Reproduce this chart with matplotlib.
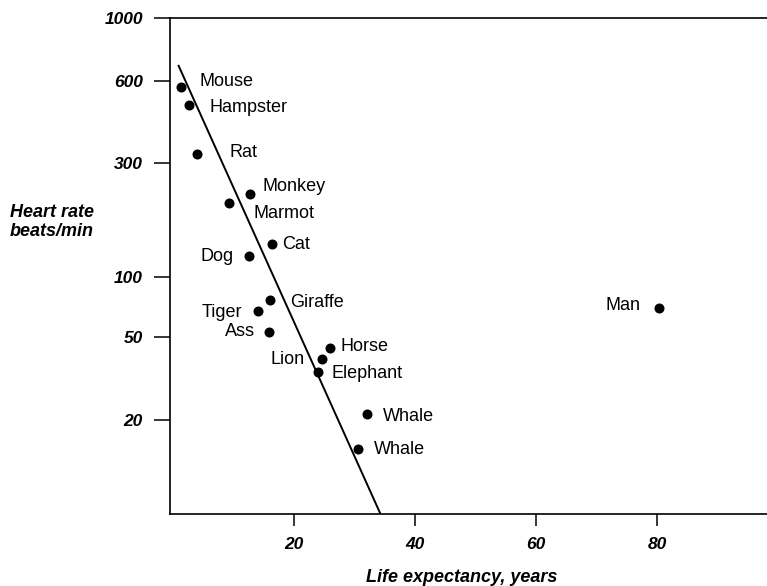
import numpy as np
import matplotlib
matplotlib.use("Agg")
import matplotlib.pyplot as plt

plt.rcParams['font.family'] = ['Liberation Sans', 'DejaVu Sans']

animals = ["Mouse", "Hampster", "Rat", "Monkey", "Marmot", "Cat", "Dog", "Giraffe",
           "Tiger", "Ass", "Horse", "Lion", "Elephant", "Whale", "Whale", "Man"]
life_expectancy = [1.3, 2.6, 3.9, 12.8, 9.3, 16.3, 12.6, 16.1,
                   14.1, 15.9, 25.9, 24.6, 23.9, 32.1, 30.6, 80.3]
heart_rate = [569, 491, 322, 221, 204, 137, 122, 76,
              67, 53, 44, 39, 33.8, 21.3, 14.5, 70]

trend_x = [0.86, 34.3]
trend_y = [684, 7]

x_ticks = [20, 40, 60, 80]
y_ticks = [20, 50, 100, 300, 600, 1000]

# hand-drawn (non-uniform) logarithmic axis calibration: value -> relative height
scale_vals = [7, 20, 50, 100, 300, 600, 1000]
scale_pos = [0, 94, 177.3, 237.3, 351.3, 433, 495.7]
_lv = np.log10(scale_vals)
_sp = np.array(scale_pos)


def fwd(v):
    v = np.clip(np.asarray(v, dtype=float), 1e-6, None)
    lv = np.log10(v)
    slo = (_sp[1] - _sp[0]) / (_lv[1] - _lv[0])
    shi = (_sp[-1] - _sp[-2]) / (_lv[-1] - _lv[-2])
    out = np.interp(lv, _lv, _sp)
    out = np.where(lv < _lv[0], _sp[0] + (lv - _lv[0]) * slo, out)
    out = np.where(lv > _lv[-1], _sp[-1] + (lv - _lv[-1]) * shi, out)
    return out


def inv(p):
    p = np.asarray(p, dtype=float)
    slo = (_sp[1] - _sp[0]) / (_lv[1] - _lv[0])
    shi = (_sp[-1] - _sp[-2]) / (_lv[-1] - _lv[-2])
    out = np.interp(p, _sp, _lv)
    out = np.where(p < _sp[0], _lv[0] + (p - _sp[0]) / slo, out)
    out = np.where(p > _sp[-1], _lv[-1] + (p - _sp[-1]) / shi, out)
    return 10 ** out


# label offsets in pixels (dx, dy) and alignment
offsets = [(19, 6), (21, -3), (33, 2), (12, 8), (24, -11), (11, 0), (-16, 0), (20, -2),
           (-16, -1), (-14, 0), (11, 2), (-17, 0), (14, -1), (16, -2), (16, -1), (-18, 2)]
aligns = ['left', 'left', 'left', 'left', 'left', 'left', 'right', 'left',
          'right', 'right', 'left', 'right', 'left', 'left', 'left', 'right']

fig = plt.figure(figsize=(7.67, 5.86), dpi=100)
ax = fig.add_axes([170 / 767, 72 / 586, (767 - 170) / 767, (514 - 18.3) / 586])
ax.set_yscale('function', functions=(fwd, inv))
ax.set_xlim(-0.5, 98.2)
ax.set_ylim(7, 1000)

ax.plot(trend_x, trend_y, color='black', lw=1.4, solid_capstyle='butt', zorder=2)
ax.plot(life_expectancy, heart_rate, 'o', color='black', markersize=6.2, zorder=3)

for name, x, y, (dx, dy), ha in zip(animals, life_expectancy, heart_rate, offsets, aligns):
    ax.annotate(name, (x, y), xytext=(dx, dy), textcoords='offset pixels',
                ha=ha, va='center', fontsize=13, color='black')

ax.set_xticks(x_ticks)
ax.set_xticklabels([str(t) for t in x_ticks])
ax.set_yticks(y_ticks)
ax.set_yticklabels([str(t) for t in y_ticks])
ax.yaxis.set_minor_locator(matplotlib.ticker.NullLocator())
ax.xaxis.set_minor_locator(matplotlib.ticker.NullLocator())

for lab in ax.get_xticklabels() + ax.get_yticklabels():
    lab.set_fontweight('bold')
    lab.set_fontstyle('italic')
    lab.set_fontsize(12.5)

ax.tick_params(axis='y', direction='out', length=11.5, width=1.1, pad=8)
ax.tick_params(axis='x', direction='out', length=8.6, width=1.1, pad=8)

ax.spines['right'].set_visible(False)
for s in ['left', 'bottom', 'top']:
    ax.spines[s].set_linewidth(1.2)

fig.text(10 / 767, 1 - 222 / 586, "Heart rate\nbeats/min", fontsize=13, fontweight='bold',
         fontstyle='italic', ha='left', va='center', linespacing=1.15)
fig.text(461.5 / 767, 1 - 577 / 586, "Life expectancy, years", fontsize=13, fontweight='bold',
         fontstyle='italic', ha='center', va='center')

fig.savefig("out.png", dpi=100)
